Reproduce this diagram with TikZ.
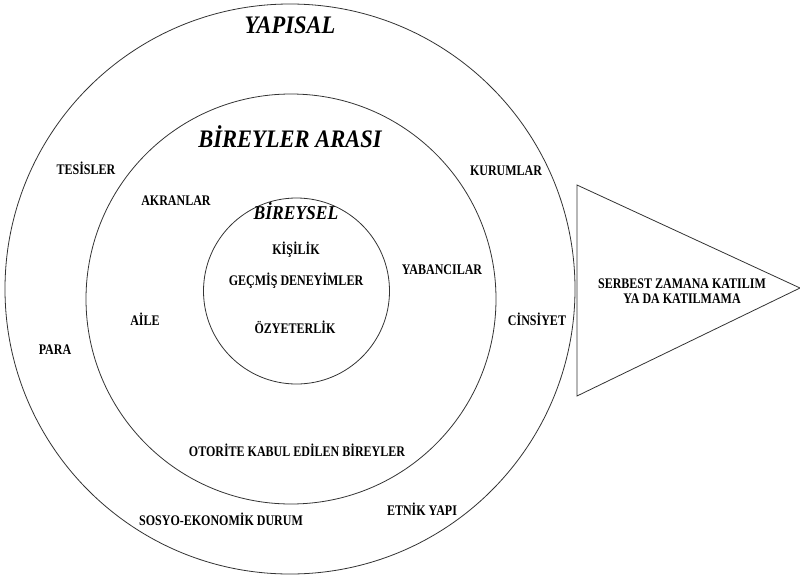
\documentclass[tikz,border=0pt]{standalone}
\usepackage{graphicx}
\usepackage{fontspec}
\setmainfont{Liberation Serif}
% slightly tall lettering
\newcommand{\tallfactor}[1]{\scalebox{1}[1.22]{#1}}
\newcommand{\talltitle}[1]{\scalebox{1}[1.12]{#1}}
\begin{document}
\begin{tikzpicture}[x=1pt,y=-1pt,
  ring/.style={circle,draw=black!80,line width=0.8pt,inner sep=0pt},
  factor/.style={anchor=base,inner sep=0pt,font=\fontsize{12}{14}\selectfont\bfseries},
  level/.style={anchor=base,inner sep=0pt,font=\fontsize{22.5}{26}\selectfont\bfseries\itshape},
  sublevel/.style={anchor=base,inner sep=0pt,font=\fontsize{17.5}{20}\selectfont\bfseries\itshape}]
\useasboundingbox (0,0) rectangle (800,576);

% nested rings
\node[ring,minimum size=570pt] (structural) at (290,289) {};
\node[ring,minimum size=410pt] (interpersonal) at (291,299) {};
\node[ring,minimum size=186pt] (personal) at (296.5,291) {};

% outcome triangle
\coordinate (t1) at (577,185);
\coordinate (t2) at (577,396);
\coordinate (t3) at (800,288);
\draw[black!80,line width=0.8pt,line join=miter] (t1) -- (t3) -- (t2) -- cycle;

% level titles
\node[level] (yapisal) at (290,33) {\talltitle{YAPISAL}};
\node[level] (arasi) at (290,147) {\talltitle{BİREYLER ARASI}};
\node[sublevel] (bireysel) at (296,219) {\talltitle{BİREYSEL}};

% structural factors
\node[factor] (tesisler) at (86,174) {\tallfactor{TESİSLER}};
\node[factor] (kurumlar) at (506,175) {\tallfactor{KURUMLAR}};
\node[factor] (para) at (55,354) {\tallfactor{PARA}};
\node[factor] (cinsiyet) at (537,325) {\tallfactor{CİNSİYET}};
\node[factor] (sosyo) at (221,525) {\tallfactor{SOSYO-EKONOMİK DURUM}};
\node[factor] (etnik) at (422,515) {\tallfactor{ETNİK YAPI}};

% interpersonal factors
\node[factor] (akranlar) at (176,205) {\tallfactor{AKRANLAR}};
\node[factor] (yabancilar) at (442,274) {\tallfactor{YABANCILAR}};
\node[factor] (aile) at (145,325) {\tallfactor{AİLE}};
\node[factor] (otorite) at (297,456) {\tallfactor{OTORİTE KABUL EDİLEN BİREYLER}};

% personal factors
\node[factor] (kisilik) at (296,254) {\tallfactor{KİŞİLİK}};
\node[factor] (gecmis) at (296,285) {\tallfactor{GEÇMİŞ DENEYİMLER}};
\node[factor] (ozyeterlik) at (295,333) {\tallfactor{ÖZYETERLİK}};

% outcome
\node[factor] (serbest1) at (682,288) {\tallfactor{SERBEST ZAMANA KATILIM}};
\node[factor] (serbest2) at (682,303) {\tallfactor{YA DA KATILMAMA}};
\end{tikzpicture}
\end{document}
